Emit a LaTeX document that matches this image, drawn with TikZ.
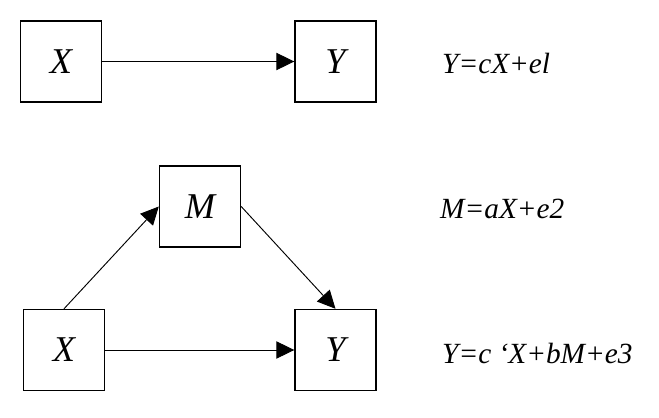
\documentclass[tikz,border=0pt]{standalone}
\usepackage{fontspec}
\setmainfont{Liberation Serif}
\usetikzlibrary{arrows.meta}

\tikzset{
  var/.style={draw,line width=1.2pt,minimum size=2.43cm,inner sep=0pt,
    font=\fontsize{31}{31}\selectfont\itshape},
  eq/.style={anchor=base west,inner sep=0pt,
    font=\fontsize{25}{25}\selectfont\itshape},
  link/.style={line width=0.8pt,-{Triangle[length=0.54cm,width=0.52cm]}}
}

\begin{document}
\begin{tikzpicture}[x=0.03cm,y=-0.03cm]
\useasboundingbox (0,0) rectangle (659,418);
% simple model
\node [var] (x1) at (61,61.5) {X};
\node [var] (y1) at (335.5,61.5) {Y};
\draw [link] (x1.east) -- (y1.west);
% mediation model
\node [var] (m) at (200,206.5) {M};
\node [var] (x2) at (64,350) {X};
\node [var] (y2) at (335.5,350) {Y};
\draw [link] (x2.north) -- (m.west);
\draw [link] (m.east) -- (y2.north);
\draw [link] (x2.east) -- (y2.west);
% equations
\node [eq] (e1) at (442,73) {Y=cX+el};
\node [eq] (e2) at (440,218) {M=aX+e2};
\node [eq] (e3) at (442,363) {Y=c \symbol{96}X+bM+e3};
\end{tikzpicture}
\end{document}
